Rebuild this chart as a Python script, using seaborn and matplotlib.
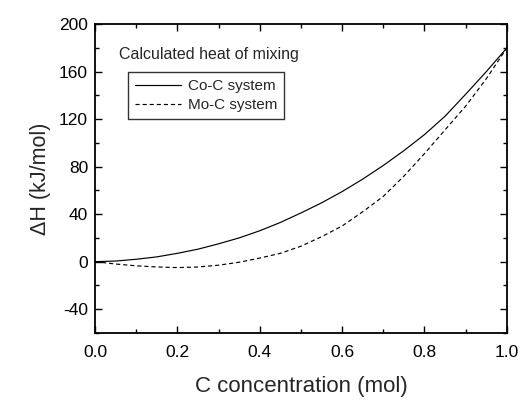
import numpy as np
import pandas as pd
import matplotlib
matplotlib.use("Agg")
import matplotlib.pyplot as plt
import seaborn as sns
from matplotlib.ticker import MultipleLocator

conc = [0.0, 0.05, 0.1, 0.15, 0.2, 0.25, 0.3, 0.35, 0.4, 0.45, 0.5,
        0.55, 0.6, 0.65, 0.7, 0.75, 0.8, 0.85, 0.9, 0.95, 1.0]
co_c = [0, 0.5, 2, 4, 7, 10.5, 15, 20, 26, 33, 41,
        49.5, 59, 69.5, 81, 93.5, 107, 122.5, 141, 160, 180]
mo_c = [0, -2, -3.5, -4.5, -5, -4.5, -3, -0.5, 3, 7, 13,
        21, 30, 42, 55, 72, 91, 111, 131, 154, 180]
series_names = ["Co-C system", "Mo-C system"]
xticks = [0.0, 0.2, 0.4, 0.6, 0.8, 1.0]
yticks = [-40, 0, 40, 80, 120, 160, 200]

df = pd.DataFrame({
    "x": conc * 2,
    "y": co_c + mo_c,
    "system": [series_names[0]] * len(conc) + [series_names[1]] * len(conc),
})

sns.set_style("ticks")
plt.rcParams['font.family'] = ['Liberation Sans', 'DejaVu Sans']

fig = plt.figure(figsize=(5.22, 4.03), dpi=100)
ax = fig.add_axes([0.182, 0.174, 0.789, 0.766])

sns.lineplot(data=df, x="x", y="y", style="system", style_order=series_names,
             dashes={series_names[0]: "", series_names[1]: (3.5, 2.5)},
             color="black", linewidth=0.85, ax=ax, legend=True)

ax.set_xlim(0, 1.0)
ax.set_ylim(-60, 200)
ax.set_xticks(xticks)
ax.set_yticks(yticks)
ax.set_xticklabels([f"{v:.1f}" for v in xticks])
ax.set_yticklabels([str(v) for v in yticks])
ax.xaxis.set_minor_locator(MultipleLocator(0.1))
ax.yaxis.set_minor_locator(MultipleLocator(20))
ax.tick_params(which="both", direction="in", top=True, right=True,
               width=1.0, colors="black", labelsize=12.5)
ax.tick_params(which="major", length=5)
ax.tick_params(which="minor", length=3)
ax.tick_params(axis="x", pad=9)
ax.tick_params(axis="y", pad=5)
for s in ax.spines.values():
    s.set_linewidth(1.3)
    s.set_color("black")

ax.set_xlabel("C concentration (mol)", fontsize=16, labelpad=11)
ax.set_ylabel("ΔH (kJ/mol)", fontsize=15.5, labelpad=6)

ax.text(0.058, 0.903, "Calculated heat of mixing", transform=ax.transAxes,
        fontsize=11.5, ha="left", va="center")

leg = ax.legend(loc="upper left", bbox_to_anchor=(0.080, 0.845), frameon=True,
                fancybox=False, edgecolor="black", fontsize=11,
                handlelength=3.0, handletextpad=0.45, borderpad=0.45,
                labelspacing=0.35, borderaxespad=0)
leg.get_frame().set_linewidth(1.0)
leg.set_title(None)

fig.savefig("out.png", dpi=100)
